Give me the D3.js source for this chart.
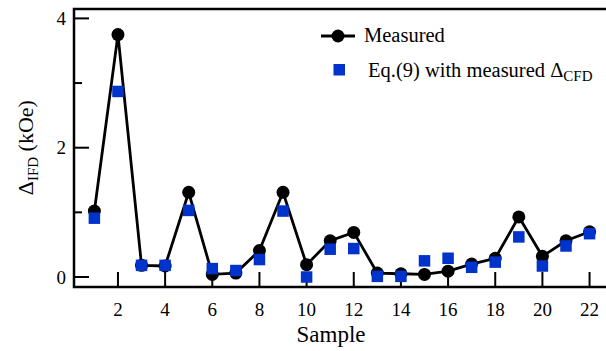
<!DOCTYPE html>
<html><head><meta charset="utf-8">
<script src="https://cdn.jsdelivr.net/npm/d3@7"></script>
<style>body{margin:0;background:#fff}svg{display:block}</style>
</head><body>
<script>
const samples = d3.range(1, 23);
const measured = [1.02,3.75,0.18,0.17,1.31,0.04,0.06,0.41,1.31,0.19,0.56,0.69,0.06,0.05,0.04,0.09,0.20,0.29,0.93,0.32,0.56,0.70];
const eq9 = [0.91,2.87,0.18,0.18,1.03,0.13,0.10,0.27,1.02,0.00,0.43,0.44,0.01,0.01,0.25,0.29,0.15,0.23,0.62,0.17,0.48,0.67];
const xTicks = [2,4,6,8,10,12,14,16,18,20,22];
const yMajor = [0,2,4];
const yMinor = [1,3];

const W = 606, H = 351;
const svg = d3.select("body").append("svg").attr("width", W).attr("height", H);
const serif = "'Liberation Serif', 'DejaVu Serif', serif";

const fLeft = 74, fTop = 9, fBottom = 287, fRight = 610;
const x = d3.scaleLinear().domain([0, 22]).range([70.8, 70.8 + 22*23.58]);
const y = d3.scaleLinear().domain([0, 4]).range([277, 18.4]);
const blue = "#0033cc";

svg.append("path")
  .attr("d", `M${fRight},${fTop}H${fLeft}V${fBottom}H${fRight}`)
  .attr("fill", "none").attr("stroke", "#000").attr("stroke-width", 2.5);

const gy = svg.append("g").attr("transform", `translate(${fLeft},0)`);
gy.selectAll("line.maj").data(yMajor).join("line").attr("class","maj")
  .attr("x1", 0).attr("x2", 15).attr("y1", d => y(d)).attr("y2", d => y(d))
  .attr("stroke", "#000").attr("stroke-width", 2);
gy.selectAll("line.min").data(yMinor).join("line").attr("class","min")
  .attr("x1", 0).attr("x2", 8).attr("y1", d => y(d)).attr("y2", d => y(d))
  .attr("stroke", "#000").attr("stroke-width", 2);
gy.selectAll("text").data(yMajor).join("text")
  .attr("x", -8).attr("y", d => y(d)).attr("dy", "0.35em")
  .attr("text-anchor", "end").style("font-family", serif).style("font-size", "19px")
  .text(d => d);

const gx = svg.append("g");
gx.selectAll("line").data(xTicks).join("line")
  .attr("x1", d => x(d)).attr("x2", d => x(d)).attr("y1", fBottom).attr("y2", fBottom - 15)
  .attr("stroke", "#000").attr("stroke-width", 2);
gx.selectAll("text").data(xTicks).join("text")
  .attr("x", d => x(d)).attr("y", 316)
  .attr("text-anchor", "middle").style("font-family", serif).style("font-size", "19px")
  .text(d => d);

svg.append("text").attr("x", 331).attr("y", 342).attr("text-anchor", "middle")
  .style("font-family", serif).style("font-size", "23px").text("Sample");
const yl = svg.append("text").attr("transform", `translate(33,${y(2)}) rotate(-90)`)
  .attr("text-anchor", "middle").style("font-family", serif).style("font-size", "22px");
yl.append("tspan").text("Δ");
yl.append("tspan").style("font-size", "15px").attr("dy", 5).text("IFD");
yl.append("tspan").attr("dy", -5).text(" (kOe)");

const pts = samples.map((s, i) => [s, measured[i]]);
svg.append("path").datum(pts)
  .attr("d", d3.line().x(d => x(d[0])).y(d => y(d[1])))
  .attr("fill", "none").attr("stroke", "#000").attr("stroke-width", 2.8);
svg.selectAll("circle.m").data(pts).join("circle").attr("class","m")
  .attr("cx", d => x(d[0])).attr("cy", d => y(d[1])).attr("r", 6.5).attr("fill", "#000");

const sq = 11.5;
svg.selectAll("rect.e").data(samples.map((s, i) => [s, eq9[i]])).join("rect").attr("class","e")
  .attr("x", d => x(d[0]) - sq/2).attr("y", d => y(d[1]) - sq/2)
  .attr("width", sq).attr("height", sq).attr("fill", blue);

const lg = svg.append("g");
lg.append("line").attr("x1", 321).attr("x2", 355).attr("y1", 36).attr("y2", 36)
  .attr("stroke", "#000").attr("stroke-width", 2.8);
lg.append("circle").attr("cx", 338).attr("cy", 36).attr("r", 6.5).attr("fill", "#000");
lg.append("text").attr("x", 364).attr("y", 42).style("font-family", serif).style("font-size", "20.5px").text("Measured");
lg.append("rect").attr("x", 333.5).attr("y", 64).attr("width", sq).attr("height", sq).attr("fill", blue);
const t2 = lg.append("text").attr("x", 368).attr("y", 77).style("font-family", serif).style("font-size", "20.5px");
t2.append("tspan").text("Eq.(9) with measured Δ");
t2.append("tspan").style("font-size", "15px").attr("dy", 4).text("CFD");
</script>
</body></html>
